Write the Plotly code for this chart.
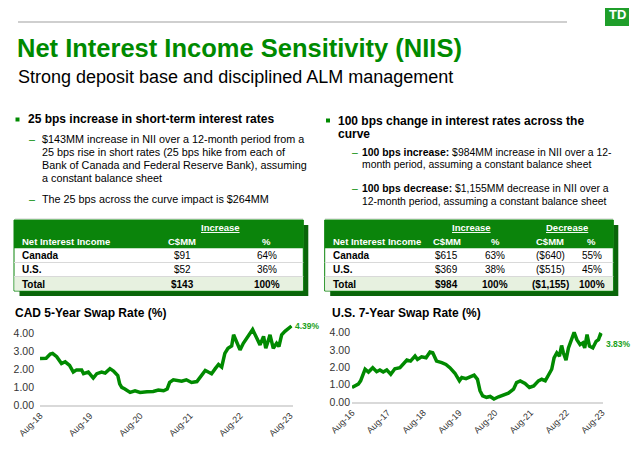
import plotly.graph_objects as go

# page body has an 8px margin: the figure is drawn 8px in from the window corner
OFF = 8
W, H = 640 - OFF, 453 - OFF
FONT = "Liberation Sans, Arial, sans-serif"
GREEN = "#008a00"
HDR = "#0b840b"
SHADOW = "#0a650a"

# ---------------- data ----------------
cad_dates = ["2018-08-01", "2018-09-15", "2018-10-15", "2018-11-01", "2018-12-01", "2019-01-05",
             "2019-02-01", "2019-03-05", "2019-04-01", "2019-04-25", "2019-06-01", "2019-06-15",
             "2019-07-20", "2019-08-25", "2019-09-20", "2019-10-25", "2019-11-20", "2019-12-25",
             "2020-01-20", "2020-02-20", "2020-03-05", "2020-03-20", "2020-04-12", "2020-05-20",
             "2020-06-25", "2020-08-01", "2020-09-20", "2020-11-05", "2020-12-12", "2021-01-20",
             "2021-02-15", "2021-03-05", "2021-04-01", "2021-05-05", "2021-06-01", "2021-07-05",
             "2021-08-12", "2021-09-20", "2021-10-12", "2021-11-20", "2021-12-12", "2022-01-05",
             "2022-02-01", "2022-02-25", "2022-03-20", "2022-04-01", "2022-04-12", "2022-05-05",
             "2022-06-01", "2022-06-15", "2022-07-05", "2022-08-01", "2022-08-25", "2022-09-20",
             "2022-10-12", "2022-11-01", "2022-12-01", "2022-12-25", "2023-01-20", "2023-02-05",
             "2023-02-25", "2023-03-08", "2023-04-01", "2023-04-25", "2023-05-12", "2023-06-01",
             "2023-06-25", "2023-07-20", "2023-08-12"]
cad_values = [2.58, 2.60, 2.83, 2.87, 2.68, 2.30,
              2.40, 2.20, 1.83, 1.95, 1.95, 1.74,
              1.83, 1.50, 1.74, 1.83, 1.77, 2.02,
              1.89, 1.64, 1.17, 0.98, 0.89, 0.70,
              0.79, 0.70, 0.74, 0.75, 0.83, 0.79,
              0.89, 1.26, 1.40, 1.36, 1.32, 1.40,
              1.25, 1.30, 1.55, 1.92, 1.83, 1.74,
              2.02, 2.25, 2.11, 2.49, 2.87, 3.15,
              3.28, 3.90, 3.53, 3.06, 3.43, 3.72,
              3.90, 4.19, 3.72, 3.34, 3.81, 3.15,
              3.62, 3.90, 3.15, 3.43, 3.25, 3.90,
              4.09, 4.28, 4.39]

us_dates = ["2016-08-01", "2016-09-01", "2016-10-04", "2016-10-28", "2016-11-19", "2016-12-13",
            "2017-01-16", "2017-03-01", "2017-04-10", "2017-05-13", "2017-06-16", "2017-07-22",
            "2017-09-01", "2017-10-13", "2017-12-04", "2018-01-07", "2018-02-13", "2018-03-22",
            "2018-05-07", "2018-06-01", "2018-07-13", "2018-08-28", "2018-10-07", "2018-11-04",
            "2018-12-13", "2019-02-04", "2019-03-19", "2019-04-28", "2019-06-19", "2019-08-04",
            "2019-08-28", "2019-10-10", "2019-11-22", "2020-01-01", "2020-02-04", "2020-03-01",
            "2020-03-28", "2020-05-07", "2020-06-13", "2020-07-22", "2020-09-07", "2020-10-28",
            "2020-12-16", "2021-02-07", "2021-03-10", "2021-04-16", "2021-06-04", "2021-07-19",
            "2021-09-01", "2021-10-19", "2021-11-22", "2021-12-28", "2022-02-01", "2022-03-04",
            "2022-03-28", "2022-04-25", "2022-05-22", "2022-06-13", "2022-07-01", "2022-07-28",
            "2022-08-22", "2022-09-19", "2022-10-19", "2022-11-16", "2022-12-19", "2023-01-16",
            "2023-02-04", "2023-02-28", "2023-03-25", "2023-04-28", "2023-06-01", "2023-06-25",
            "2023-07-13", "2023-08-01"]
us_values = [0.84, 0.93, 1.03, 1.22, 1.60, 1.89,
             1.73, 1.98, 1.75, 1.85, 1.73, 1.85,
             1.60, 1.92, 1.98, 2.17, 2.42, 2.36,
             2.65, 2.46, 2.61, 2.55, 2.88, 2.84,
             2.36, 2.27, 2.17, 1.98, 1.66, 1.22,
             1.41, 1.35, 1.47, 1.55, 1.31, 0.65,
             0.36, 0.27, 0.32, 0.17, 0.30, 0.40,
             0.51, 0.74, 1.12, 1.22, 1.07, 0.84,
             0.93, 1.22, 1.31, 1.22, 1.60, 1.89,
             2.55, 2.84, 2.65, 3.26, 2.84, 2.42,
             3.12, 3.60, 4.02, 3.60, 3.31, 3.41,
             3.12, 3.89, 3.22, 3.12, 3.50, 3.60,
             3.89, 3.83]

cad_tickvals = ["2018-08-01", "2019-08-01", "2020-08-01", "2021-08-01", "2022-08-01", "2023-08-01"]
cad_ticktext = ["Aug-18", "Aug-19", "Aug-20", "Aug-21", "Aug-22", "Aug-23"]
us_tickvals = ["2016-08-01", "2017-08-01", "2018-08-01", "2019-08-01", "2020-08-01",
               "2021-08-01", "2022-08-01", "2023-08-01"]
us_ticktext = ["Aug-16", "Aug-17", "Aug-18", "Aug-19", "Aug-20", "Aug-21", "Aug-22", "Aug-23"]
y_tickvals = [0, 1, 2, 3, 4]

cad_last_label = "4.39%"
us_last_label = "3.83%"

t1_header = ["Net Interest Income", "C$MM", "%"]
t1_rows = [["Canada", "$91", "64%"],
           ["U.S.", "$52", "36%"],
           ["Total", "$143", "100%"]]
t2_header = ["Net Interest Income", "C$MM", "%", "C$MM", "%"]
t2_rows = [["Canada", "$615", "63%", "($640)", "55%"],
           ["U.S.", "$369", "38%", "($515)", "45%"],
           ["Total", "$984", "100%", "($1,155)", "100%"]]

# ---------------- helpers (window pixel -> paper) ----------------
def px(x):
    return (x - OFF) / W

def py(y):
    return 1 - (y - OFF) / H

annotations = []
shapes = []

def txt(x, y, s, size, color="#000000", anchor="left", family=FONT):
    annotations.append(dict(x=px(x), y=py(y), xref="paper", yref="paper", text=s,
                            showarrow=False, xanchor=anchor, yanchor="middle",
                            font=dict(size=size, color=color, family=family),
                            borderpad=0))

def rect(x0, y0, x1, y1, fill, line=None, lw=0):
    shapes.append(dict(type="rect", xref="paper", yref="paper",
                       x0=px(x0), x1=px(x1), y0=py(y1), y1=py(y0),
                       fillcolor=fill, line=dict(color=line or fill, width=lw),
                       layer="below"))

def hline(x0, x1, y, color, width):
    shapes.append(dict(type="line", xref="paper", yref="paper",
                       x0=px(x0), x1=px(x1), y0=py(y), y1=py(y),
                       line=dict(color=color, width=width)))

# ---------------- header ----------------
hline(18, 567, 22, "#bfbfbf", 1.5)
rect(605, 8, 629, 26, "#1f9e2a")
rect(605, 1, 629, 12, "#1f9e2a")
txt(617, 14, "<b>TD</b>", 13, "#ffffff", "center", "Liberation Sans Narrow, Liberation Sans")
txt(16, 48, "<b>Net Interest Income Sensitivity (NIIS)</b>", 25.5, GREEN)
txt(17, 77, "Strong deposit base and disciplined ALM management", 18, "#000000")

# ---------------- bullets ----------------
SUB_L = 10.8
SUB_R = 10.4
rect(15.5, 117.5, 19.5, 121.5, GREEN)
txt(27, 119.5, "<b>25 bps increase in short-term interest rates</b>", 12)
left_sub = ["$143MM increase in NII over a 12-month period from a",
            "25 bps rise in short rates (25 bps hike from each of",
            "Bank of Canada and Federal Reserve Bank), assuming",
            "a constant balance sheet"]
for i, s in enumerate(left_sub):
    txt(41, 139 + 12.9 * i, s, SUB_L)
txt(32, 139, "–", SUB_L, GREEN, "center")
txt(32, 199.5, "–", SUB_L, GREEN, "center")
txt(41, 199.5, "The 25 bps across the curve impact is $264MM", SUB_L)
hline(15, 303, 218.5, "#e6e6e6", 1)

rect(326, 118.5, 330, 122.5, GREEN)
txt(337, 120.5, "<b>100 bps change in interest rates across the</b>", 12)
txt(337, 133.8, "<b>curve</b>", 12)
txt(354.5, 152, "–", SUB_R, GREEN, "center")
txt(361, 152, "<b>100 bps increase:</b> $984MM increase in NII over a 12-", SUB_R)
txt(361, 165, "month period, assuming a constant balance sheet", SUB_R)
txt(354.5, 188, "–", SUB_R, GREEN, "center")
txt(361, 188, "<b>100 bps decrease:</b> $1,155MM decrease in NII over a", SUB_R)
txt(361, 201, "12-month period, assuming a constant balance sheet", SUB_R)
hline(325, 613, 218.5, "#e6e6e6", 1)

# ---------------- tables ----------------
def table(x0, x1, label_x, col_x, header, rows, groups):
    top, hdr_bot, bot = 220, 248.3, 291
    rect(x0 + 5.5, top + 5, x1 + 5, bot + 5, SHADOW)
    rect(x0, top, x1, bot, "#ffffff", HDR, 1)
    rect(x0, top, x1, hdr_bot, HDR)
    rect(x0 + 0.5, 276.5, x1 - 0.5, bot - 0.5, "#e7f1e0")
    hline(x0, x1, 262.5, "#d9d9d9", 1)
    hline(x0, x1, 276.5, "#d9d9d9", 1)
    for gx, gtext in groups:
        txt(gx, 227, "<b><u>" + gtext + "</u></b>", 9.5, "#ffffff", "center")
    txt(label_x, 241, "<b>" + header[0] + "</b>", 9.5, "#ffffff", "left")
    for cx, h in zip(col_x, header[1:]):
        txt(cx, 241, "<b>" + h + "</b>", 9.5, "#ffffff", "center")
    row_y = [256, 269.5, 284]
    for ry, row in zip(row_y, rows):
        bold = row[0] == "Total"
        txt(label_x, ry, "<b>" + row[0] + "</b>", 10, "#000000", "left")
        for cx, v in zip(col_x, row[1:]):
            s = "<b>" + v + "</b>" if bold else v
            txt(cx, ry, s, 10, "#000000", "center")

table(14, 303.3, 21.3, [182.3, 266.7], t1_header, t1_rows, [(220, "Increase")])
table(324.7, 613.3, 331.7, [446.7, 495, 550, 591.7], t2_header, t2_rows,
      [(471.7, "Increase"), (567.3, "Decrease")])

# ---------------- charts ----------------
txt(14, 313, "<b>CAD 5-Year Swap Rate (%)</b>", 12)
txt(331, 313, "<b>U.S. 7-Year Swap Rate (%)</b>", 12)

fig = go.Figure()
fig.add_trace(go.Scatter(x=cad_dates, y=cad_values, mode="lines",
                         line=dict(color=GREEN, width=3.5), xaxis="x", yaxis="y",
                         hoverinfo="skip"))
fig.add_trace(go.Scatter(x=us_dates, y=us_values, mode="lines",
                         line=dict(color=GREEN, width=3.5), xaxis="x2", yaxis="y2",
                         hoverinfo="skip"))

annotations.append(dict(x=cad_dates[-1], y=cad_values[-1], xref="x", yref="y",
                        text="<b>" + cad_last_label + "</b>", showarrow=False,
                        xanchor="left", yanchor="middle", xshift=1,
                        font=dict(size=8.5, color="#1aa01a", family=FONT)))
annotations.append(dict(x=us_dates[-1], y=us_values[-1], xref="x2", yref="y2",
                        text="<b>" + us_last_label + "</b>", showarrow=False,
                        xanchor="left", yanchor="middle", xshift=2, yshift=-8,
                        font=dict(size=8.5, color="#1aa01a", family=FONT)))

axis_common = dict(showgrid=False, zeroline=False, ticks="", fixedrange=True, automargin=False)
xcommon = dict(axis_common, showline=True, linecolor="#d9d9d9", linewidth=2,
               tickangle=-45, tickfont=dict(size=9, color="#333333", family=FONT),
               type="date")
ycommon = dict(axis_common, showline=False, tickvals=y_tickvals, tickformat=".2f",
               tickfont=dict(size=10.5, color="#333333", family=FONT), range=[0, 4.5])

fig.update_layout(
    width=W, height=H, margin=dict(l=0, r=0, t=0, b=0, pad=0, autoexpand=False),
    paper_bgcolor="#ffffff", plot_bgcolor="#ffffff", showlegend=False,
    font=dict(family=FONT),
    xaxis=dict(xcommon, domain=[px(40), px(292.6)], range=["2018-08-01", "2023-08-20"],
               tickvals=cad_tickvals, ticktext=cad_ticktext, anchor="y"),
    yaxis=dict(ycommon, domain=[py(405), py(324)], anchor="x", ticklabelstandoff=5),
    xaxis2=dict(xcommon, domain=[px(352), px(602.5)], range=["2016-08-01", "2023-08-05"],
                tickvals=us_tickvals, ticktext=us_ticktext, anchor="y2"),
    yaxis2=dict(ycommon, domain=[py(402), py(324)], anchor="x2", ticklabelstandoff=1),
    annotations=annotations, shapes=shapes,
)

fig.write_html("out.html")
